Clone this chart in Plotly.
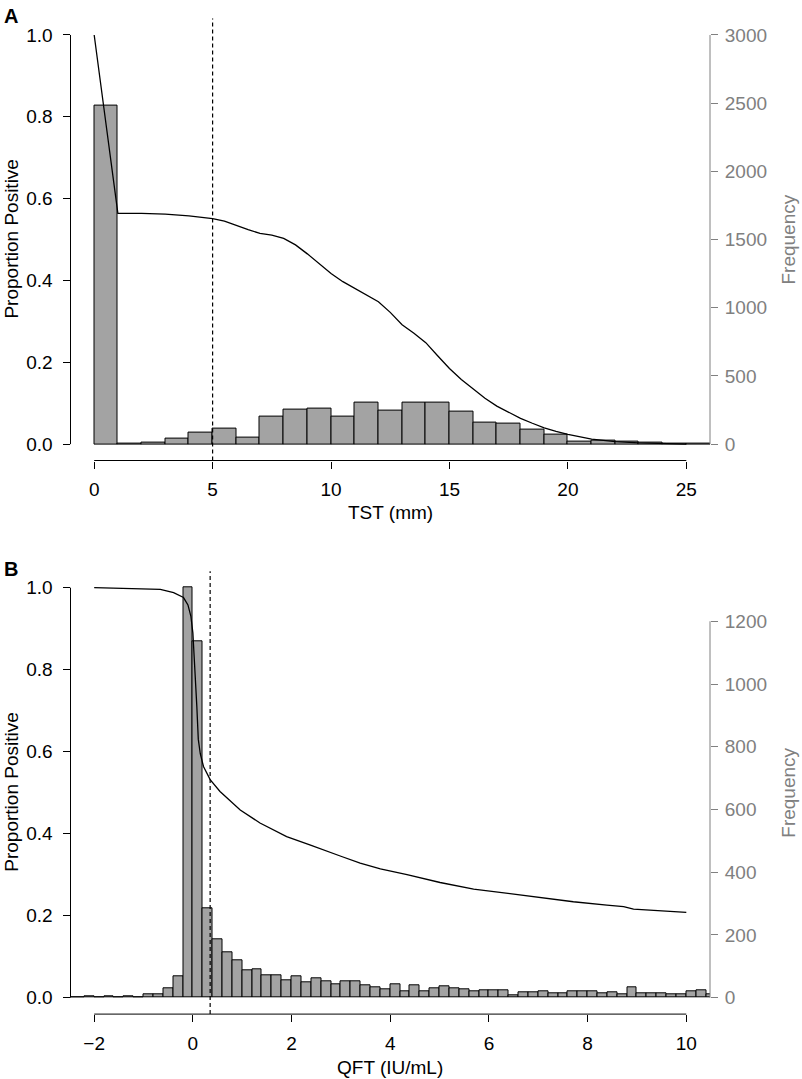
import plotly.graph_objects as go

# ---------------- Panel A data (TST) ----------------
tst_bin_left = [0, 1, 2, 3, 4, 5, 6, 7, 8, 9, 10, 11, 12, 13, 14, 15, 16, 17, 18, 19,
                20, 21, 22, 23, 24, 25]
tst_counts = [2479, 7, 12, 44, 81, 112, 49, 205, 254, 262, 203, 303, 247, 301, 306, 235,
              161, 149, 105, 71, 17, 24, 17, 12, 5, 2]
tst_curve_x = [0, 1, 2, 3, 4, 5, 5.5, 6, 6.5, 7, 7.5, 8, 8.5, 9, 9.5, 10, 10.5, 11, 11.5,
               12, 12.5, 13, 13.5, 14, 14.5, 15, 15.5, 16, 16.5, 17, 17.5, 18, 18.5, 19,
               19.5, 20, 21, 22, 23, 24, 25]
tst_curve_y = [1.0, 0.564, 0.564, 0.562, 0.558, 0.551, 0.545, 0.534, 0.524, 0.515, 0.511,
               0.503, 0.487, 0.465, 0.44, 0.417, 0.397, 0.381, 0.366, 0.348, 0.322, 0.292,
               0.271, 0.248, 0.216, 0.185, 0.158, 0.134, 0.112, 0.093, 0.077, 0.063, 0.051,
               0.04, 0.031, 0.024, 0.012, 0.006, 0.003, 0.001, 0.0]
tst_cutoff = 5
tst_xticks = [0, 5, 10, 15, 20, 25]
tst_freq_ticks = [0, 500, 1000, 1500, 2000, 2500, 3000]

# ---------------- Panel B data (QFT) ----------------
qft_bin_left = [-2.6, -2.4, -2.2, -2.0, -1.8, -1.6, -1.4, -1.2, -1.0, -0.8, -0.6, -0.4, -0.2,
                0.0, 0.2, 0.4, 0.6, 0.8, 1.0, 1.2, 1.4, 1.6, 1.8, 2.0, 2.2, 2.4, 2.6, 2.8,
                3.0, 3.2, 3.4, 3.6, 3.8, 4.0, 4.2, 4.4, 4.6, 4.8, 5.0, 5.2, 5.4, 5.6, 5.8,
                6.0, 6.2, 6.4, 6.6, 6.8, 7.0, 7.2, 7.4, 7.6, 7.8, 8.0, 8.2, 8.4, 8.6, 8.8,
                9.0, 9.2, 9.4, 9.6, 9.8, 10.0, 10.2, 10.4]
qft_counts = [1, 2, 4, 2, 5, 2, 6, 2, 11, 10, 30, 67, 1307,
              1136, 285, 187, 145, 119, 86, 92, 72, 72, 54, 68, 49, 62, 51, 42,
              51, 51, 38, 34, 28, 44, 20, 38, 20, 30, 36, 30, 28, 21, 23,
              23, 23, 8, 18, 18, 21, 15, 15, 19, 21, 19, 15, 17, 11, 34,
              15, 15, 15, 11, 11, 19, 23, 11]
qft_curve_x = [-2.0, -1.34, -0.66, -0.39, -0.19, -0.1, -0.04, 0.0, 0.03, 0.06, 0.08, 0.11,
               0.15, 0.215, 0.35, 0.55, 0.75, 0.96, 1.36, 1.9, 2.37, 2.71, 3.0, 3.39, 3.8,
               4.34, 5.01, 5.69, 6.36, 7.04, 7.71, 8.39, 8.73, 8.93, 9.4, 10.0]
qft_curve_y = [1.0, 0.998, 0.996, 0.988, 0.976, 0.958, 0.93, 0.89, 0.833, 0.76, 0.711, 0.63,
               0.595, 0.564, 0.532, 0.503, 0.48, 0.458, 0.426, 0.393, 0.373, 0.357, 0.345,
               0.328, 0.314, 0.3, 0.281, 0.265, 0.255, 0.244, 0.234, 0.226, 0.222, 0.216,
               0.212, 0.208]
qft_cutoff = 0.35
qft_xticks = [-2, 0, 2, 4, 6, 8, 10]
qft_freq_ticks = [0, 200, 400, 600, 800, 1000, 1200]

prop_ticks = [0.0, 0.2, 0.4, 0.6, 0.8, 1.0]

# ---------------- figure ----------------
W, H = 802, 1079
FONT = "Liberation Sans, Arial, Helvetica, sans-serif"
GRAY = "#808080"
BAR = "#a3a3a3"
FS = 19

xdom = [70.5 / W, 710 / W]
ydomA = [1 - 460.5 / H, 1 - 18.6 / H]
ydomB = [1 - 1014.1 / H, 1 - 571.3 / H]

fig = go.Figure()

fig.add_trace(go.Bar(x=tst_bin_left, y=tst_counts, width=1, offset=0,
                     marker=dict(color=BAR, line=dict(color="black", width=1)),
                     xaxis="x", yaxis="y", showlegend=False))
fig.add_trace(go.Scatter(x=tst_curve_x, y=tst_curve_y, mode="lines",
                         line=dict(color="black", width=1.3),
                         xaxis="x", yaxis="y2", showlegend=False))
fig.add_trace(go.Bar(x=qft_bin_left, y=qft_counts, width=0.2, offset=0,
                     marker=dict(color=BAR, line=dict(color="black", width=1)),
                     xaxis="x2", yaxis="y3", showlegend=False))
fig.add_trace(go.Scatter(x=qft_curve_x, y=qft_curve_y, mode="lines",
                         line=dict(color="black", width=1.3),
                         xaxis="x2", yaxis="y4", showlegend=False))

tick_font = dict(family=FONT, size=FS, color="black")
gray_font = dict(family=FONT, size=FS, color=GRAY)

common_x = dict(showgrid=False, zeroline=False, showline=False, ticks="outside",
                ticklen=7, tickwidth=1, tickcolor="black", tickfont=tick_font,
                ticklabelstandoff=5, domain=xdom)
left_y = dict(showgrid=False, zeroline=False, showline=False, ticks="outside",
              ticklen=7, tickwidth=1, tickcolor="black", tickfont=tick_font,
              tickvals=prop_ticks, tickformat=".1f", range=[-0.04, 1.04],
              side="left", ticklabelstandoff=6)
right_y = dict(showgrid=False, zeroline=False, showline=False, ticks="outside",
               ticklen=7, tickwidth=1, tickcolor=GRAY, tickfont=gray_font,
               side="right", ticklabelstandoff=3)

fA = max(tst_freq_ticks)
fB = max(qft_counts)

fig.update_layout(
    width=W, height=H,
    margin=dict(l=0, r=0, t=0, b=0),
    paper_bgcolor="white", plot_bgcolor="white",
    bargap=0,
    xaxis=dict(common_x, range=[-1, 26], tickvals=tst_xticks, anchor="y"),
    yaxis=dict(right_y, domain=ydomA, range=[-0.04 * fA, 1.04 * fA],
               tickvals=tst_freq_ticks, anchor="x"),
    yaxis2=dict(left_y, overlaying="y", anchor="x"),
    xaxis2=dict(common_x, range=[-2.48, 10.48], tickvals=qft_xticks, anchor="y3"),
    yaxis3=dict(right_y, domain=ydomB, range=[-0.04 * fB, 1.04 * fB],
                tickvals=qft_freq_ticks, anchor="x2"),
    yaxis4=dict(left_y, overlaying="y3", anchor="x2"),
)

shapes = []
# panel A axis lines
shapes.append(dict(type="line", xref="x", yref="y domain", x0=tst_xticks[0], x1=tst_xticks[-1],
                   y0=0, y1=0, line=dict(color="black", width=1)))
shapes.append(dict(type="line", xref="x domain", yref="y2", x0=0, x1=0,
                   y0=prop_ticks[0], y1=prop_ticks[-1], line=dict(color="black", width=1)))
shapes.append(dict(type="line", xref="x domain", yref="y", x0=1, x1=1,
                   y0=tst_freq_ticks[0], y1=tst_freq_ticks[-1], line=dict(color=GRAY, width=1)))
shapes.append(dict(type="line", xref="x", yref="y domain", x0=tst_cutoff, x1=tst_cutoff,
                   y0=0, y1=1, line=dict(color="black", width=1.2, dash="4px,3px")))
# panel B axis lines
shapes.append(dict(type="line", xref="x2", yref="y3 domain", x0=qft_xticks[0], x1=qft_xticks[-1],
                   y0=0, y1=0, line=dict(color="black", width=1)))
shapes.append(dict(type="line", xref="x2 domain", yref="y4", x0=0, x1=0,
                   y0=prop_ticks[0], y1=prop_ticks[-1], line=dict(color="black", width=1)))
shapes.append(dict(type="line", xref="x2 domain", yref="y3", x0=1, x1=1,
                   y0=qft_freq_ticks[0], y1=qft_freq_ticks[-1], line=dict(color=GRAY, width=1)))
shapes.append(dict(type="line", xref="x2", yref="y3 domain", x0=qft_cutoff, x1=qft_cutoff,
                   y0=0, y1=1, line=dict(color="black", width=1.2, dash="4px,3px")))
fig.update_layout(shapes=shapes)

cA = (ydomA[0] + ydomA[1]) / 2
cB = (ydomB[0] + ydomB[1]) / 2
xc = (xdom[0] + xdom[1]) / 2
ann = []
for cy in (cA, cB):
    ann.append(dict(text="Proportion Positive", x=12 / W, y=cy, xref="paper", yref="paper",
                    textangle=-90, showarrow=False, font=tick_font,
                    xanchor="center", yanchor="middle"))
    ann.append(dict(text="Frequency", x=789 / W, y=cy, xref="paper", yref="paper",
                    textangle=-90, showarrow=False, font=gray_font,
                    xanchor="center", yanchor="middle"))
ann.append(dict(text="TST (mm)", x=xc, y=1 - 512 / H, xref="paper", yref="paper",
                showarrow=False, font=tick_font, xanchor="center", yanchor="middle"))
ann.append(dict(text="QFT (IU/mL)", x=xc, y=1 - 1067 / H, xref="paper", yref="paper",
                showarrow=False, font=tick_font, xanchor="center", yanchor="middle"))
ann.append(dict(text="<b>A</b>", x=11 / W, y=1 - 16 / H, xref="paper", yref="paper",
                showarrow=False, font=dict(family=FONT, size=20, color="black"),
                xanchor="center", yanchor="middle"))
ann.append(dict(text="<b>B</b>", x=11 / W, y=1 - 569 / H, xref="paper", yref="paper",
                showarrow=False, font=dict(family=FONT, size=20, color="black"),
                xanchor="center", yanchor="middle"))
fig.update_layout(annotations=ann)

fig.write_html(
    "out.html",
    config={"displayModeBar": False},
    post_script="document.body.style.margin='0';document.body.style.overflow='hidden';",
)
